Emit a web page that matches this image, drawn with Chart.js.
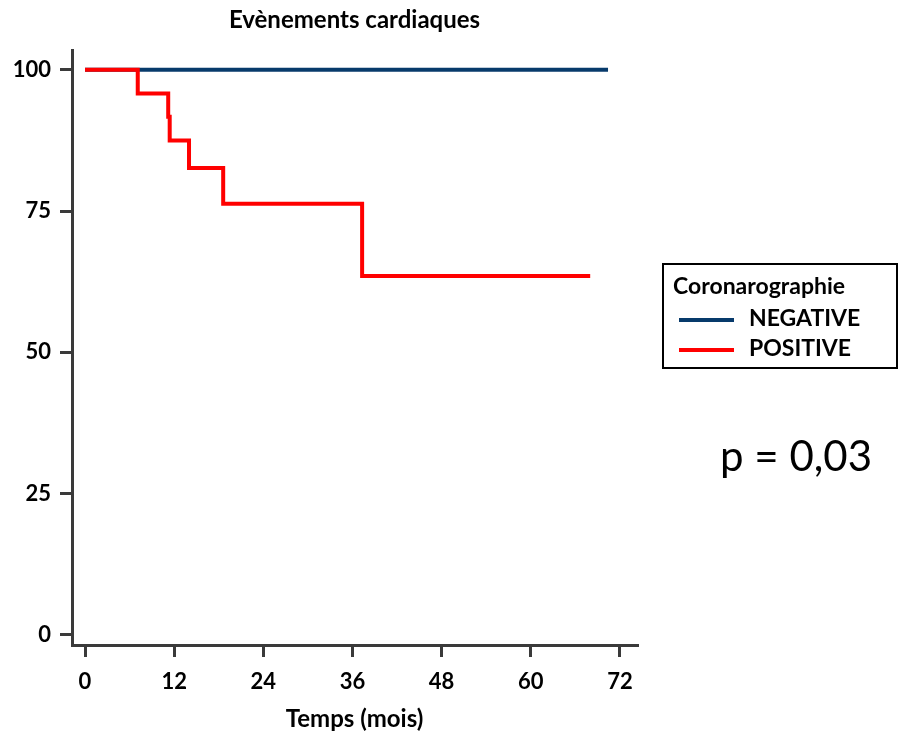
<!DOCTYPE html>
<html>
<head>
<meta charset="utf-8">
<script src="https://cdn.jsdelivr.net/npm/chart.js@4/dist/chart.umd.min.js"></script>
<style>
  html, body { margin: 0; padding: 0; background: #fff; }
  #wrap { position: relative; width: 903px; height: 742px; overflow: hidden; }
  #legend { position: absolute; left: 662px; top: 263px; width: 232px; height: 102px;
    border: 2px solid #000; font-family: Lato, "Noto Sans", sans-serif; font-weight: bold; font-size: 23px; color: #000; }
  #legend .ttl { position: absolute; left: 9px; top: 6px; line-height: 28px; white-space: nowrap; }
  #legend .row { position: absolute; left: 15px; height: 28px; line-height: 28px; white-space: nowrap; }
  #legend .sw { display: inline-block; width: 55px; height: 4px; vertical-align: middle; margin-right: 15px; }
  #pval { position: absolute; left: 720px; top: 430px; font-family: Lato, "Noto Sans", sans-serif; font-size: 42px; color: #000; }
</style>
</head>
<body>
<div id="wrap">
  <canvas id="c" width="903" height="742"></canvas>
  <div id="legend">
    <div class="ttl">Coronarographie</div>
    <div class="row" style="top:38px"><span class="sw" style="background:#073a6b"></span>NEGATIVE</div>
    <div class="row" style="top:68px"><span class="sw" style="background:#ff0000"></span>POSITIVE</div>
  </div>
  <div id="pval">p = 0,03</div>
</div>
<script>
// Data
const negTimes = [0, 70.4];
const negSurv  = [100, 100];
const posTimes = [0, 7.1, 11.2, 11.4, 14.0, 18.6, 37.3, 68.0];
const posSurv  = [100, 95.8, 91.7, 87.5, 82.6, 76.3, 63.5, 63.5];
const xTicks = [0, 12, 24, 36, 48, 60, 72];
const yTicks = [0, 25, 50, 75, 100];
const seriesNames = ['POSITIVE', 'NEGATIVE'];

const toPts = (xs, ys) => xs.map((x, i) => ({ x: x, y: ys[i] }));
const FONT = 'Lato, "Noto Sans", sans-serif';
const AXC = '#3a3a3a';

new Chart(document.getElementById('c'), {
  type: 'scatter',
  data: {
    datasets: [
      { label: seriesNames[0], data: toPts(posTimes, posSurv), showLine: true, stepped: 'before',
        borderColor: '#ff0000', backgroundColor: '#ff0000', borderWidth: 4, pointRadius: 0, fill: false },
      { label: seriesNames[1], data: toPts(negTimes, negSurv), showLine: true, stepped: 'before',
        borderColor: '#073a6b', backgroundColor: '#073a6b', borderWidth: 4, pointRadius: 0, fill: false }
    ]
  },
  options: {
    responsive: false,
    animation: false,
    layout: { padding: { left: 0, right: 266, top: 0, bottom: 0 } },
    plugins: {
      legend: { display: false },
      tooltip: { enabled: false },
      title: {
        display: true, fullSize: false, text: 'Evènements cardiaques', color: '#000',
        font: { family: FONT, size: 24, weight: 'bold' },
        padding: { top: 6, bottom: 15.2 }
      }
    },
    scales: {
      x: {
        type: 'linear', min: -1.75, max: 74.3,
        afterBuildTicks: s => { s.ticks = xTicks.map(v => ({ value: v })); },
        afterFit: s => { s.height = 97; },
        grid: { drawOnChartArea: false, drawTicks: true, tickLength: 12, color: AXC, lineWidth: 3 },
        border: { display: true, width: 3, color: AXC },
        ticks: { color: '#000', font: { family: FONT, size: 22, weight: 'bold' }, padding: 12, maxRotation: 0 },
        title: { display: true, text: 'Temps (mois)', color: '#000',
          font: { family: FONT, size: 24, weight: 'bold' }, padding: { top: 0, bottom: 8 } }
      },
      y: {
        type: 'linear', min: -1.8, max: 103.5,
        afterBuildTicks: s => { s.ticks = yTicks.map(v => ({ value: v })); },
        afterFit: s => { s.width = 72; },
        grid: { drawOnChartArea: false, drawTicks: true, tickLength: 12, color: AXC, lineWidth: 3 },
        border: { display: true, width: 3, color: AXC },
        ticks: { color: '#000', font: { family: FONT, size: 22, weight: 'bold' }, padding: 9 }
      }
    }
  }
});
</script>
</body>
</html>
